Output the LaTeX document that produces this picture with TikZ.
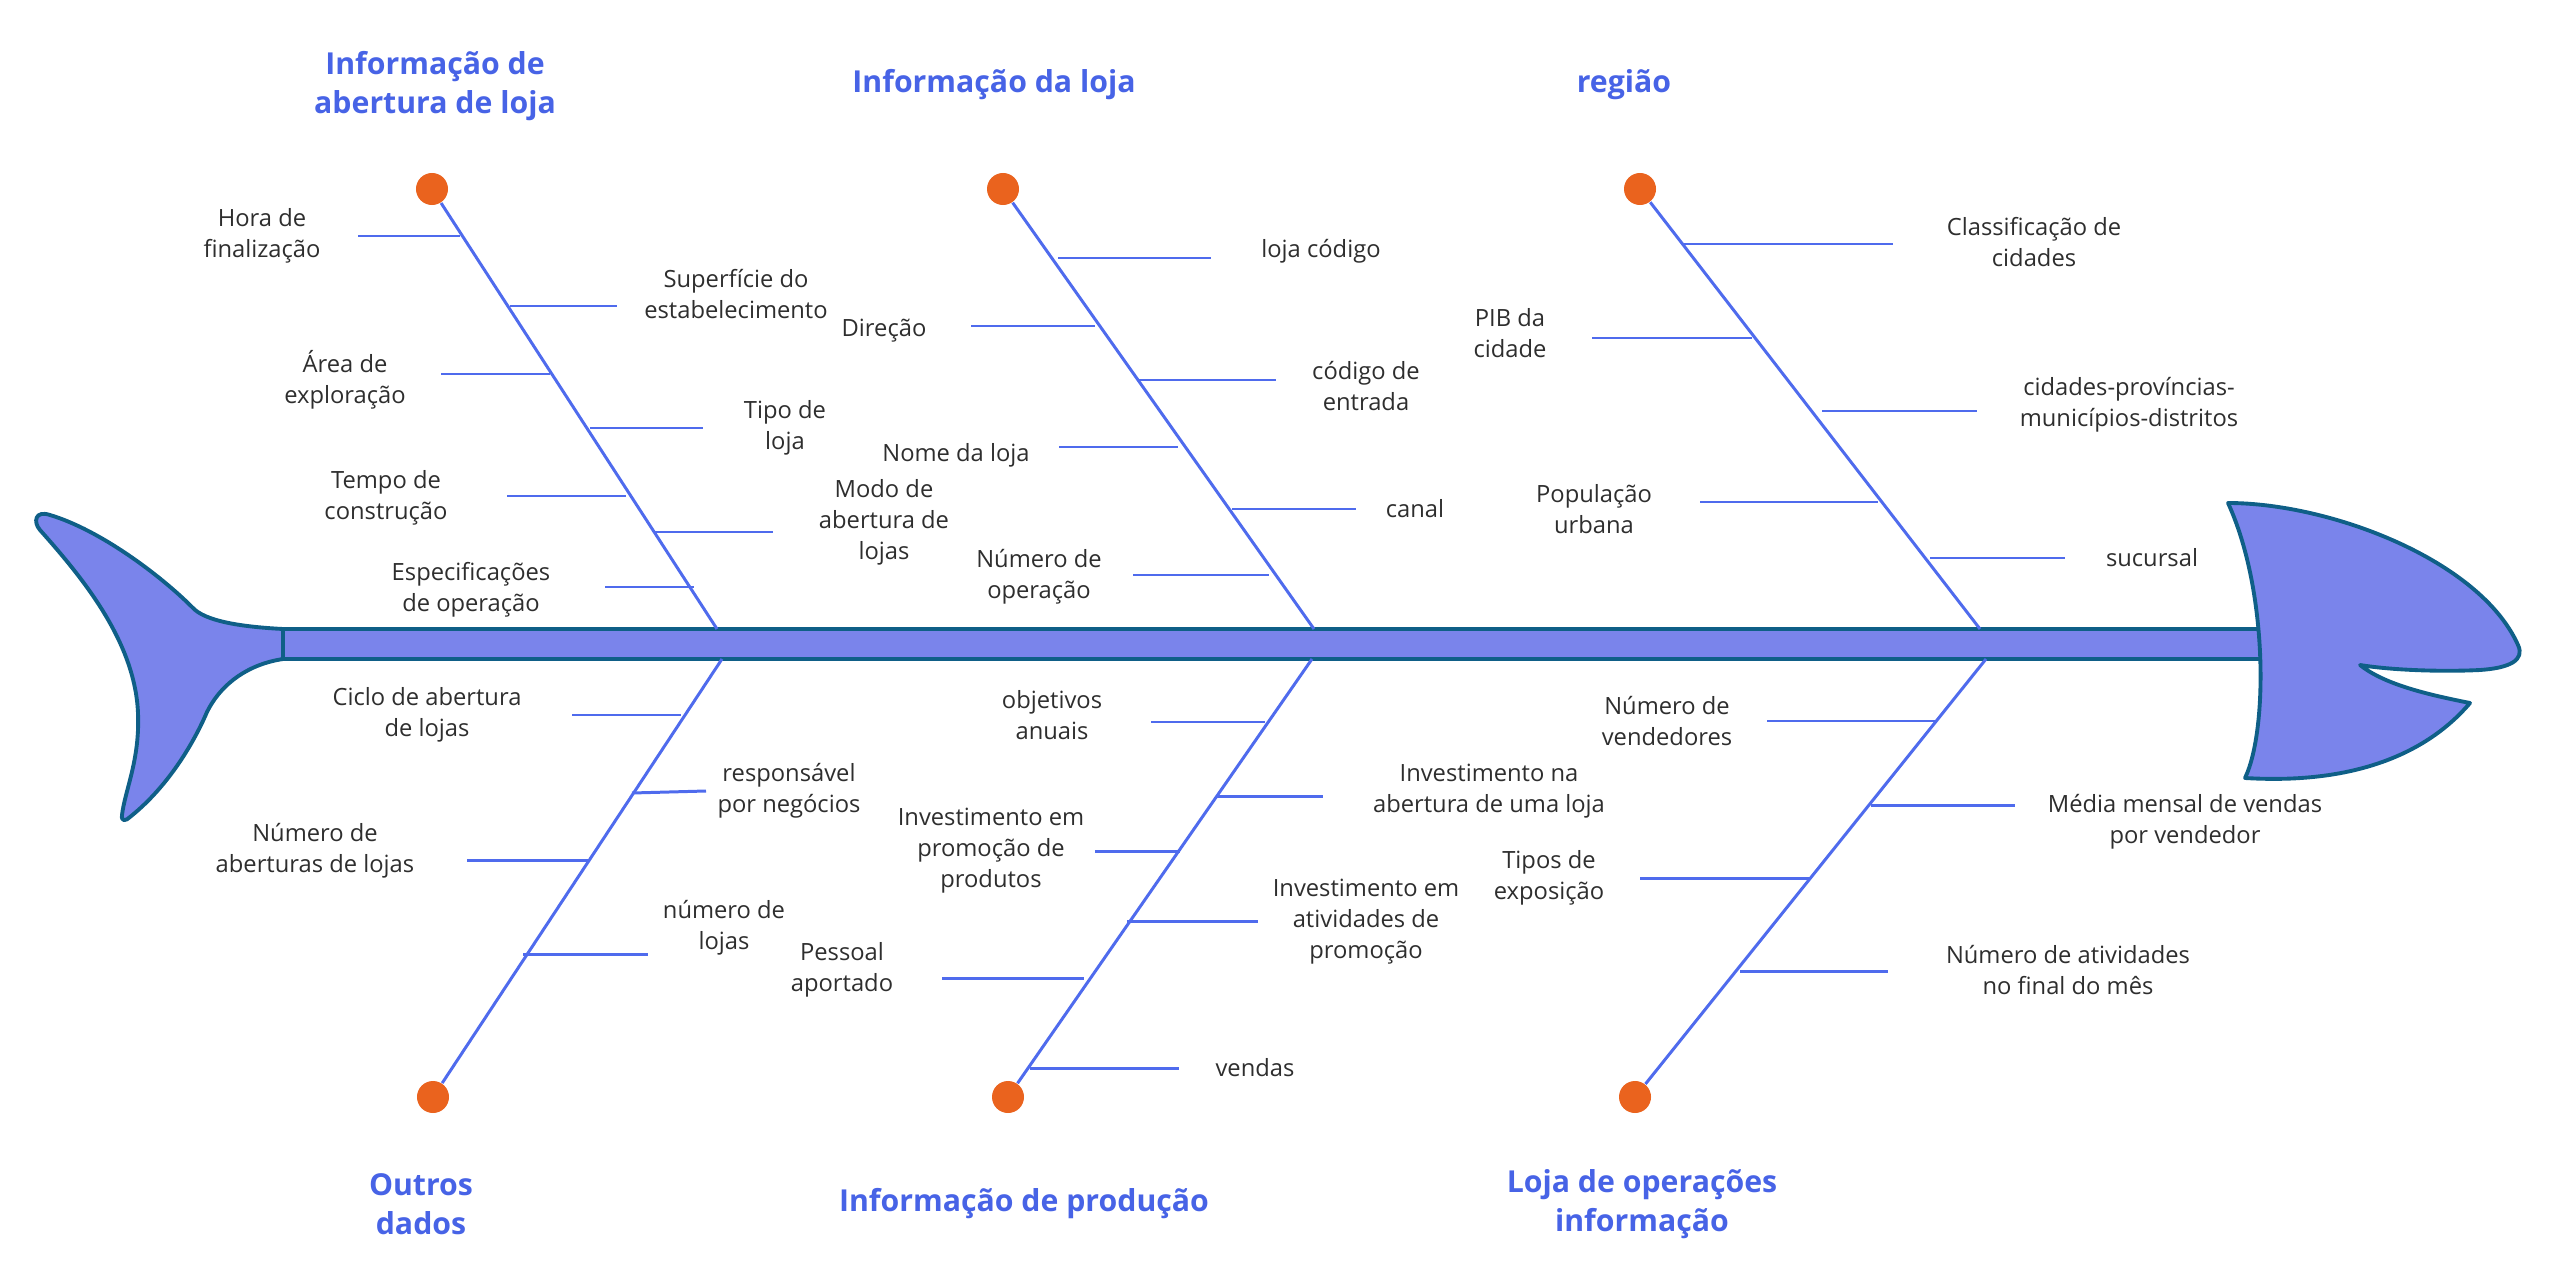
\documentclass[tikz,border=0pt]{standalone}
\usepackage{fontspec}
\setmainfont{Open Sans}
\definecolor{fishfill}{HTML}{7A84EB}
\definecolor{fishline}{HTML}{0F5F87}
\definecolor{bonec}{HTML}{4F6BED}
\definecolor{dotc}{HTML}{EA631E}
\definecolor{ttlc}{HTML}{4763E6}
\definecolor{txt}{HTML}{2E2E2E}
\begin{document}
\begin{tikzpicture}[x=0.01cm,y=-0.01cm,
  fish/.style={fill=fishfill,draw=fishline,line width=1.1pt,line join=round},
  bone/.style={draw=bonec,line width=0.85pt},
  dot/.style={circle,fill=dotc,minimum size=0.32cm,inner sep=0pt},
  lbl/.style={align=center,text=txt,font=\fontsize{6.75}{8.8}\selectfont,inner sep=0pt},
  ttl/.style={align=center,text=ttlc,font=\fontsize{8.6}{11}\selectfont\bfseries,inner sep=0pt}]
  \useasboundingbox (0,0) rectangle (2557,1279);
  % tail, spine, head
  \draw[fish] (283,629) .. controls (245,627) and (205,622) .. (192,607)
    .. controls (160,575) and (100,530) .. (50,515)
    .. controls (35,510) and (33,522) .. (40,530)
    .. controls (80,575) and (135,640) .. (138,713)
    .. controls (140,760) and (125,790) .. (122,815)
    .. controls (121,822) and (126,821) .. (130,817)
    .. controls (170,785) and (195,740) .. (207,712)
    .. controls (222,682) and (250,664) .. (283,659) -- cycle;
  \draw[fish] (283,629) rectangle (2262,659);
  \draw[fish] (2228,503) .. controls (2330,503) and (2480,560) .. (2518,645)
    .. controls (2525,660) and (2510,668) .. (2480,670)
    .. controls (2440,672) and (2390,670) .. (2360,665)
    .. controls (2385,685) and (2430,695) .. (2470,703)
    .. controls (2430,750) and (2360,785) .. (2245,778)
    .. controls (2268,730) and (2268,590) .. (2228,503) -- cycle;

  % big bones
  \node[dot] (d1) at (432,189) {};
  \node[dot] (d2) at (1003,189) {};
  \node[dot] (d3) at (1640,189) {};
  \node[dot] (d4) at (433,1097) {};
  \node[dot] (d5) at (1008,1097) {};
  \node[dot] (d6) at (1635,1097) {};
  \coordinate (s1) at (717,629);
  \coordinate (s2) at (1314,629);
  \coordinate (s3) at (1980,629);
  \coordinate (s4) at (722,659);
  \coordinate (s5) at (1312,659);
  \coordinate (s6) at (1986,659);
  \draw[bone] (d1) -- (s1);
  \draw[bone] (d2) -- (s2);
  \draw[bone] (d3) -- (s3);
  \draw[bone] (d4) -- (s4);
  \draw[bone] (d5) -- (s5);
  \draw[bone] (d6) -- (s6);

  % titles
  \node[ttl] (h1) at (435,86) {Informação de\\abertura de loja};
  \node[ttl] (h2) at (994,85) {Informação da loja};
  \node[ttl] (h3) at (1624,85) {região};
  \node[ttl] (h4) at (421,1204) {Outros\\dados};
  \node[ttl] (h5) at (1024,1204) {Informação de produção};
  \node[ttl] (h6) at (1642,1204) {Loja de operações\\informação};

  % abertura de loja
  \draw[bone] (358,236) -- (460,236);
  \node[lbl] (ta1) at (262,236) {Hora de\\finalização};
  \draw[bone] (510,306) -- (617,306);
  \node[lbl] (ta2) at (736,294) {Superfície do\\estabelecimento};
  \draw[bone] (441,374) -- (550,374);
  \node[lbl] (ta3) at (345,380) {Área de\\exploração};
  \draw[bone] (590,428) -- (703,428);
  \node[lbl] (ta4) at (785,428) {Tipo de\\loja};
  \draw[bone] (507,496) -- (626,496);
  \node[lbl] (ta5) at (386,498) {Tempo de\\construção};
  \draw[bone] (655,532) -- (773,532);
  \node[lbl] (ta6) at (884,522) {Modo de\\abertura de\\lojas};
  \draw[bone] (605,587) -- (694,587);
  \node[lbl] (ta7) at (471,590) {Especificações\\de operação};

  % loja
  \draw[bone] (1058,258) -- (1211,258);
  \node[lbl] (tb1) at (1321,251) {loja código};
  \draw[bone] (971,326) -- (1095,326);
  \node[lbl] (tb2) at (884,331) {Direção};
  \draw[bone] (1137,380) -- (1276,380);
  \node[lbl] (tb3) at (1366,386) {código de\\entrada};
  \draw[bone] (1059,447) -- (1178,447);
  \node[lbl] (tb4) at (956,455) {Nome da loja};
  \draw[bone] (1232,509) -- (1356,509);
  \node[lbl] (tb5) at (1415,509) {canal};
  \draw[bone] (1133,575) -- (1269,575);
  \node[lbl] (tb6) at (1039,577) {Número de\\operação};

  % regiao
  \draw[bone] (1683,244) -- (1893,244);
  \node[lbl] (tc1) at (2034,242) {Classificação de\\cidades};
  \draw[bone] (1592,338) -- (1752,338);
  \node[lbl] (tc2) at (1510,333) {PIB da\\cidade};
  \draw[bone] (1822,411) -- (1977,411);
  \node[lbl] (tc3) at (2129,405) {cidades-províncias-\\municípios-distritos};
  \draw[bone] (1700,502) -- (1878,502);
  \node[lbl] (tc4) at (1594,509) {População\\urbana};
  \draw[bone] (1930,558) -- (2065,558);
  \node[lbl] (tc5) at (2152,558) {sucursal};

  % outros dados
  \draw[bone] (572,715) -- (681,715);
  \node[lbl] (ba1) at (427,715) {Ciclo de abertura\\de lojas};
  \draw[bone] (632,793) -- (706,791);
  \node[lbl] (ba2) at (789,791) {responsável\\por negócios};
  \draw[bone] (467,860) -- (590,860);
  \node[lbl] (ba3) at (315,851) {Número de\\aberturas de lojas};
  \draw[bone] (523,954) -- (648,954);
  \node[lbl] (ba4) at (724,928) {número de\\lojas};

  % producao
  \draw[bone] (1151,722) -- (1265,722);
  \node[lbl] (bb1) at (1052,715) {objetivos\\anuais};
  \draw[bone] (1217,796) -- (1323,796);
  \node[lbl] (bb2) at (1489,791) {Investimento na\\abertura de uma loja};
  \draw[bone] (1095,851) -- (1180,851);
  \node[lbl] (bb3) at (991,851) {Investimento em\\promoção de\\produtos};
  \draw[bone] (1127,921) -- (1258,921);
  \node[lbl] (bb4) at (1366,922) {Investimento em\\atividades de\\promoção};
  \draw[bone] (942,978) -- (1084,978);
  \node[lbl] (bb5) at (842,970) {Pessoal\\aportado};
  \draw[bone] (1030,1068) -- (1179,1068);
  \node[lbl] (bb6) at (1255,1068) {vendas};

  % operacoes
  \draw[bone] (1767,721) -- (1935,721);
  \node[lbl] (bc1) at (1667,721) {Número de\\vendedores};
  \draw[bone] (1871,805) -- (2015,805);
  \node[lbl] (bc2) at (2185,822) {Média mensal de vendas\\por vendedor};
  \draw[bone] (1640,878) -- (1809,878);
  \node[lbl] (bc3) at (1549,878) {Tipos de\\exposição};
  \draw[bone] (1740,971) -- (1888,971);
  \node[lbl] (bc4) at (2068,970) {Número de atividades\\no final do mês};
\end{tikzpicture}
\end{document}
